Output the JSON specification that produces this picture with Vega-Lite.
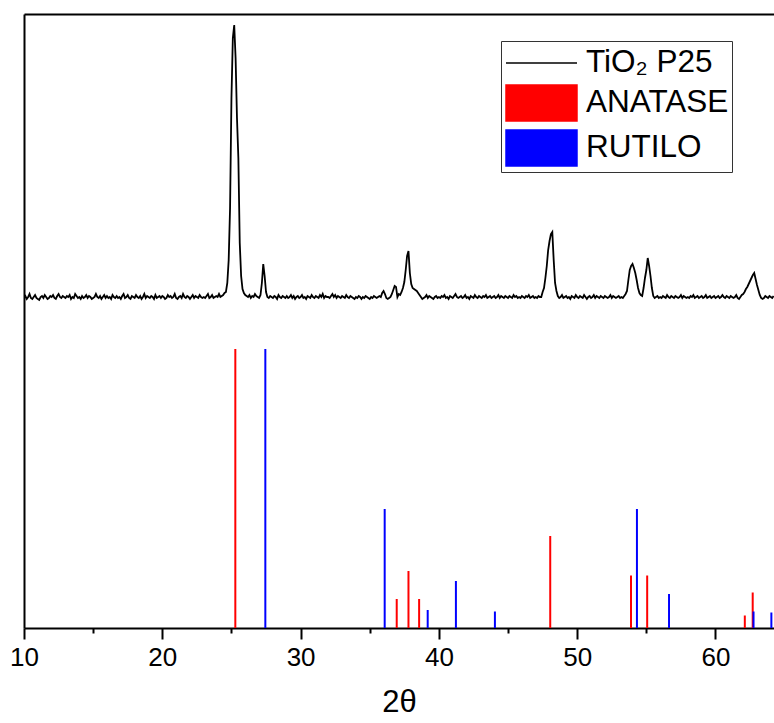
{
  "$schema": "https://vega.github.io/schema/vega-lite/v6.json",
  "width": 750,
  "height": 614,
  "autosize": {"type": "none"},
  "padding": {"left": 24, "top": 14, "right": 0, "bottom": 95},
  "background": "white",
  "config": {"view": {"stroke": null}},
  "datasets": {
    "pattern": [
{"t":10.0,"v":330},{"t":10.1,"v":332},{"t":10.2,"v":329},{"t":10.3,"v":331},{"t":10.4,"v":334},{"t":10.5,"v":330},{"t":10.6,"v":329},{"t":10.7,"v":331},{"t":10.8,"v":333},{"t":10.9,"v":330},
{"t":11.0,"v":329},{"t":11.1,"v":328},{"t":11.2,"v":331},{"t":11.3,"v":332},{"t":11.4,"v":330},{"t":11.5,"v":333},{"t":11.6,"v":331},{"t":11.7,"v":329},{"t":11.8,"v":330},{"t":11.9,"v":332},
{"t":12.0,"v":331},{"t":12.1,"v":333},{"t":12.2,"v":330},{"t":12.3,"v":329},{"t":12.4,"v":332},{"t":12.5,"v":334},{"t":12.6,"v":331},{"t":12.7,"v":330},{"t":12.8,"v":332},{"t":12.9,"v":331},
{"t":13.0,"v":330},{"t":13.1,"v":332},{"t":13.2,"v":331},{"t":13.3,"v":333},{"t":13.4,"v":329},{"t":13.5,"v":331},{"t":13.6,"v":330},{"t":13.7,"v":334},{"t":13.8,"v":332},{"t":13.9,"v":330},
{"t":14.0,"v":331},{"t":14.1,"v":329},{"t":14.2,"v":332},{"t":14.3,"v":330},{"t":14.4,"v":331},{"t":14.5,"v":333},{"t":14.6,"v":330},{"t":14.7,"v":332},{"t":14.8,"v":331},{"t":14.9,"v":329},
{"t":15.0,"v":330},{"t":15.1,"v":331},{"t":15.2,"v":334},{"t":15.3,"v":331},{"t":15.4,"v":330},{"t":15.5,"v":332},{"t":15.6,"v":329},{"t":15.7,"v":331},{"t":15.8,"v":333},{"t":15.9,"v":330},
{"t":16.0,"v":332},{"t":16.1,"v":330},{"t":16.2,"v":331},{"t":16.3,"v":329},{"t":16.4,"v":333},{"t":16.5,"v":331},{"t":16.6,"v":330},{"t":16.7,"v":332},{"t":16.8,"v":330},{"t":16.9,"v":331},
{"t":17.0,"v":329},{"t":17.1,"v":332},{"t":17.2,"v":334},{"t":17.3,"v":330},{"t":17.4,"v":331},{"t":17.5,"v":333},{"t":17.6,"v":330},{"t":17.7,"v":329},{"t":17.8,"v":332},{"t":17.9,"v":331},
{"t":18.0,"v":330},{"t":18.1,"v":333},{"t":18.2,"v":331},{"t":18.3,"v":330},{"t":18.4,"v":332},{"t":18.5,"v":329},{"t":18.6,"v":331},{"t":18.7,"v":334},{"t":18.8,"v":330},{"t":18.9,"v":332},
{"t":19.0,"v":331},{"t":19.1,"v":330},{"t":19.2,"v":332},{"t":19.3,"v":331},{"t":19.4,"v":329},{"t":19.5,"v":333},{"t":19.6,"v":330},{"t":19.7,"v":331},{"t":19.8,"v":332},{"t":19.9,"v":330},
{"t":20.0,"v":332},{"t":20.1,"v":331},{"t":20.2,"v":329},{"t":20.3,"v":330},{"t":20.4,"v":333},{"t":20.5,"v":331},{"t":20.6,"v":332},{"t":20.7,"v":330},{"t":20.8,"v":331},{"t":20.9,"v":334},
{"t":21.0,"v":330},{"t":21.1,"v":329},{"t":21.2,"v":331},{"t":21.3,"v":332},{"t":21.4,"v":330},{"t":21.5,"v":334},{"t":21.6,"v":331},{"t":21.7,"v":330},{"t":21.8,"v":332},{"t":21.9,"v":331},
{"t":22.0,"v":329},{"t":22.1,"v":331},{"t":22.2,"v":333},{"t":22.3,"v":330},{"t":22.4,"v":332},{"t":22.5,"v":331},{"t":22.6,"v":330},{"t":22.7,"v":333},{"t":22.8,"v":331},{"t":22.9,"v":330},
{"t":23.0,"v":331},{"t":23.1,"v":330},{"t":23.2,"v":332},{"t":23.3,"v":334},{"t":23.4,"v":330},{"t":23.5,"v":331},{"t":23.6,"v":333},{"t":23.7,"v":330},{"t":23.8,"v":331},{"t":23.9,"v":332},
{"t":24.0,"v":331},{"t":24.1,"v":334},{"t":24.2,"v":331},{"t":24.3,"v":332},{"t":24.4,"v":333},{"t":24.5,"v":335},{"t":24.6,"v":336},{"t":24.7,"v":345},{"t":24.8,"v":368},{"t":24.9,"v":420},
{"t":25.0,"v":530},{"t":25.1,"v":590},{"t":25.2,"v":603},{"t":25.3,"v":570},{"t":25.4,"v":510},{"t":25.5,"v":470},{"t":25.6,"v":385},{"t":25.7,"v":352},{"t":25.8,"v":339},{"t":25.9,"v":335},
{"t":26.0,"v":333},{"t":26.1,"v":332},{"t":26.2,"v":331},{"t":26.3,"v":333},{"t":26.4,"v":330},{"t":26.5,"v":332},{"t":26.6,"v":331},{"t":26.7,"v":334},{"t":26.8,"v":332},{"t":26.9,"v":331},
{"t":27.0,"v":330},{"t":27.1,"v":333},{"t":27.2,"v":345},{"t":27.3,"v":364},{"t":27.4,"v":352},{"t":27.5,"v":336},{"t":27.6,"v":331},{"t":27.7,"v":330},{"t":27.8,"v":332},{"t":27.9,"v":331},
{"t":28.0,"v":330},{"t":28.1,"v":332},{"t":28.2,"v":331},{"t":28.3,"v":329},{"t":28.4,"v":333},{"t":28.5,"v":331},{"t":28.6,"v":330},{"t":28.7,"v":332},{"t":28.8,"v":331},{"t":28.9,"v":330},
{"t":29.0,"v":332},{"t":29.1,"v":330},{"t":29.2,"v":331},{"t":29.3,"v":333},{"t":29.4,"v":330},{"t":29.5,"v":332},{"t":29.6,"v":329},{"t":29.7,"v":331},{"t":29.8,"v":332},{"t":29.9,"v":330},
{"t":30.0,"v":331},{"t":30.1,"v":333},{"t":30.2,"v":330},{"t":30.3,"v":331},{"t":30.4,"v":329},{"t":30.5,"v":332},{"t":30.6,"v":331},{"t":30.7,"v":330},{"t":30.8,"v":333},{"t":30.9,"v":331},
{"t":31.0,"v":330},{"t":31.1,"v":332},{"t":31.2,"v":331},{"t":31.3,"v":330},{"t":31.4,"v":333},{"t":31.5,"v":331},{"t":31.6,"v":334},{"t":31.7,"v":330},{"t":31.8,"v":332},{"t":31.9,"v":331},
{"t":32.0,"v":331},{"t":32.1,"v":330},{"t":32.2,"v":332},{"t":32.3,"v":334},{"t":32.4,"v":331},{"t":32.5,"v":333},{"t":32.6,"v":330},{"t":32.7,"v":332},{"t":32.8,"v":331},{"t":32.9,"v":330},
{"t":33.0,"v":332},{"t":33.1,"v":331},{"t":33.2,"v":330},{"t":33.3,"v":333},{"t":33.4,"v":331},{"t":33.5,"v":330},{"t":33.6,"v":332},{"t":33.7,"v":331},{"t":33.8,"v":330},{"t":33.9,"v":329},
{"t":34.0,"v":331},{"t":34.1,"v":330},{"t":34.2,"v":332},{"t":34.3,"v":331},{"t":34.4,"v":329},{"t":34.5,"v":331},{"t":34.6,"v":330},{"t":34.7,"v":332},{"t":34.8,"v":331},{"t":34.9,"v":330},
{"t":35.0,"v":329},{"t":35.1,"v":331},{"t":35.2,"v":330},{"t":35.3,"v":332},{"t":35.4,"v":331},{"t":35.5,"v":330},{"t":35.6,"v":331},{"t":35.7,"v":332},{"t":35.8,"v":331},{"t":35.9,"v":335},
{"t":36.0,"v":337},{"t":36.1,"v":334},{"t":36.2,"v":330},{"t":36.3,"v":329},{"t":36.4,"v":330},{"t":36.5,"v":331},{"t":36.6,"v":334},{"t":36.7,"v":338},{"t":36.8,"v":342},{"t":36.9,"v":341},
{"t":37.0,"v":331},{"t":37.1,"v":334},{"t":37.2,"v":333},{"t":37.3,"v":336},{"t":37.4,"v":340},{"t":37.5,"v":346},{"t":37.6,"v":358},{"t":37.7,"v":372},{"t":37.8,"v":377},{"t":37.9,"v":355},
{"t":38.0,"v":344},{"t":38.1,"v":340},{"t":38.2,"v":339},{"t":38.3,"v":338},{"t":38.4,"v":337},{"t":38.5,"v":335},{"t":38.6,"v":333},{"t":38.7,"v":331},{"t":38.8,"v":329},{"t":38.9,"v":330},
{"t":39.0,"v":331},{"t":39.1,"v":333},{"t":39.2,"v":330},{"t":39.3,"v":332},{"t":39.4,"v":331},{"t":39.5,"v":330},{"t":39.6,"v":329},{"t":39.7,"v":331},{"t":39.8,"v":332},{"t":39.9,"v":330},
{"t":40.0,"v":331},{"t":40.1,"v":330},{"t":40.2,"v":332},{"t":40.3,"v":331},{"t":40.4,"v":333},{"t":40.5,"v":330},{"t":40.6,"v":331},{"t":40.7,"v":329},{"t":40.8,"v":332},{"t":40.9,"v":331},
{"t":41.0,"v":330},{"t":41.1,"v":332},{"t":41.2,"v":334},{"t":41.3,"v":331},{"t":41.4,"v":330},{"t":41.5,"v":331},{"t":41.6,"v":332},{"t":41.7,"v":330},{"t":41.8,"v":331},{"t":41.9,"v":333},
{"t":42.0,"v":330},{"t":42.1,"v":331},{"t":42.2,"v":329},{"t":42.3,"v":332},{"t":42.4,"v":331},{"t":42.5,"v":330},{"t":42.6,"v":333},{"t":42.7,"v":331},{"t":42.8,"v":330},{"t":42.9,"v":332},
{"t":43.0,"v":331},{"t":43.1,"v":330},{"t":43.2,"v":332},{"t":43.3,"v":331},{"t":43.4,"v":333},{"t":43.5,"v":330},{"t":43.6,"v":331},{"t":43.7,"v":332},{"t":43.8,"v":330},{"t":43.9,"v":331},
{"t":44.0,"v":332},{"t":44.1,"v":330},{"t":44.2,"v":331},{"t":44.3,"v":333},{"t":44.4,"v":330},{"t":44.5,"v":332},{"t":44.6,"v":331},{"t":44.7,"v":330},{"t":44.8,"v":332},{"t":44.9,"v":331},
{"t":45.0,"v":330},{"t":45.1,"v":332},{"t":45.2,"v":331},{"t":45.3,"v":330},{"t":45.4,"v":333},{"t":45.5,"v":331},{"t":45.6,"v":332},{"t":45.7,"v":330},{"t":45.8,"v":331},{"t":45.9,"v":330},
{"t":46.0,"v":332},{"t":46.1,"v":331},{"t":46.2,"v":330},{"t":46.3,"v":332},{"t":46.4,"v":331},{"t":46.5,"v":333},{"t":46.6,"v":330},{"t":46.7,"v":331},{"t":46.8,"v":332},{"t":46.9,"v":330},
{"t":47.0,"v":331},{"t":47.1,"v":330},{"t":47.2,"v":332},{"t":47.3,"v":331},{"t":47.4,"v":331},{"t":47.5,"v":336},{"t":47.6,"v":340},{"t":47.7,"v":350},{"t":47.8,"v":362},{"t":47.9,"v":378},
{"t":48.0,"v":387},{"t":48.1,"v":394},{"t":48.2,"v":396},{"t":48.3,"v":368},{"t":48.4,"v":345},{"t":48.5,"v":337},{"t":48.6,"v":332},{"t":48.7,"v":330},{"t":48.8,"v":331},{"t":48.9,"v":333},
{"t":49.0,"v":330},{"t":49.1,"v":331},{"t":49.2,"v":332},{"t":49.3,"v":330},{"t":49.4,"v":331},{"t":49.5,"v":329},{"t":49.6,"v":332},{"t":49.7,"v":331},{"t":49.8,"v":330},{"t":49.9,"v":333},
{"t":50.0,"v":331},{"t":50.1,"v":330},{"t":50.2,"v":332},{"t":50.3,"v":331},{"t":50.4,"v":330},{"t":50.5,"v":333},{"t":50.6,"v":331},{"t":50.7,"v":329},{"t":50.8,"v":331},{"t":50.9,"v":332},
{"t":51.0,"v":330},{"t":51.1,"v":331},{"t":51.2,"v":333},{"t":51.3,"v":330},{"t":51.4,"v":332},{"t":51.5,"v":331},{"t":51.6,"v":330},{"t":51.7,"v":332},{"t":51.8,"v":331},{"t":51.9,"v":330},
{"t":52.0,"v":332},{"t":52.1,"v":331},{"t":52.2,"v":330},{"t":52.3,"v":331},{"t":52.4,"v":333},{"t":52.5,"v":330},{"t":52.6,"v":332},{"t":52.7,"v":331},{"t":52.8,"v":330},{"t":52.9,"v":331},
{"t":53.0,"v":332},{"t":53.1,"v":330},{"t":53.2,"v":331},{"t":53.3,"v":330},{"t":53.4,"v":332},{"t":53.5,"v":334},{"t":53.6,"v":337},{"t":53.7,"v":348},{"t":53.8,"v":358},{"t":53.9,"v":362},
{"t":54.0,"v":364},{"t":54.1,"v":360},{"t":54.2,"v":355},{"t":54.3,"v":348},{"t":54.4,"v":340},{"t":54.5,"v":335},{"t":54.6,"v":333},{"t":54.7,"v":332},{"t":54.8,"v":340},{"t":54.9,"v":350},
{"t":55.0,"v":358},{"t":55.1,"v":370},{"t":55.2,"v":362},{"t":55.3,"v":352},{"t":55.4,"v":340},{"t":55.5,"v":332},{"t":55.6,"v":330},{"t":55.7,"v":331},{"t":55.8,"v":332},{"t":55.9,"v":330},
{"t":56.0,"v":331},{"t":56.1,"v":330},{"t":56.2,"v":332},{"t":56.3,"v":331},{"t":56.4,"v":330},{"t":56.5,"v":333},{"t":56.6,"v":331},{"t":56.7,"v":330},{"t":56.8,"v":332},{"t":56.9,"v":331},
{"t":57.0,"v":330},{"t":57.1,"v":332},{"t":57.2,"v":331},{"t":57.3,"v":330},{"t":57.4,"v":331},{"t":57.5,"v":333},{"t":57.6,"v":330},{"t":57.7,"v":332},{"t":57.8,"v":331},{"t":57.9,"v":330},
{"t":58.0,"v":331},{"t":58.1,"v":330},{"t":58.2,"v":332},{"t":58.3,"v":331},{"t":58.4,"v":333},{"t":58.5,"v":330},{"t":58.6,"v":331},{"t":58.7,"v":332},{"t":58.8,"v":330},{"t":58.9,"v":331},
{"t":59.0,"v":332},{"t":59.1,"v":330},{"t":59.2,"v":331},{"t":59.3,"v":333},{"t":59.4,"v":330},{"t":59.5,"v":331},{"t":59.6,"v":332},{"t":59.7,"v":330},{"t":59.8,"v":331},{"t":59.9,"v":332},
{"t":60.0,"v":330},{"t":60.1,"v":331},{"t":60.2,"v":332},{"t":60.3,"v":330},{"t":60.4,"v":331},{"t":60.5,"v":333},{"t":60.6,"v":331},{"t":60.7,"v":330},{"t":60.8,"v":332},{"t":60.9,"v":331},
{"t":61.0,"v":330},{"t":61.1,"v":332},{"t":61.2,"v":331},{"t":61.3,"v":330},{"t":61.4,"v":331},{"t":61.5,"v":333},{"t":61.6,"v":330},{"t":61.7,"v":329},{"t":61.8,"v":331},{"t":61.9,"v":333},
{"t":62.0,"v":334},{"t":62.1,"v":336},{"t":62.2,"v":339},{"t":62.3,"v":341},{"t":62.4,"v":344},{"t":62.5,"v":347},{"t":62.6,"v":350},{"t":62.7,"v":353},{"t":62.8,"v":355},{"t":62.9,"v":349},
{"t":63.0,"v":343},{"t":63.1,"v":338},{"t":63.2,"v":333},{"t":63.3,"v":330},{"t":63.4,"v":329},{"t":63.5,"v":330},{"t":63.6,"v":332},{"t":63.7,"v":331},{"t":63.8,"v":330},{"t":63.9,"v":332},
{"t":64.0,"v":331},{"t":64.1,"v":330},{"t":64.2,"v":332}
    ],
    "sticks": [
      {"t": 25.28, "h": 279, "f": "ANATASE"},
      {"t": 27.45, "h": 279, "f": "RUTILO"},
      {"t": 36.08, "h": 119, "f": "RUTILO"},
      {"t": 36.95, "h": 29, "f": "ANATASE"},
      {"t": 37.8, "h": 57, "f": "ANATASE"},
      {"t": 38.57, "h": 29, "f": "ANATASE"},
      {"t": 39.19, "h": 18, "f": "RUTILO"},
      {"t": 41.23, "h": 47, "f": "RUTILO"},
      {"t": 44.05, "h": 16.5, "f": "RUTILO"},
      {"t": 48.05, "h": 92, "f": "ANATASE"},
      {"t": 53.89, "h": 52.5, "f": "ANATASE"},
      {"t": 54.32, "h": 119, "f": "RUTILO"},
      {"t": 55.06, "h": 52.5, "f": "ANATASE"},
      {"t": 56.64, "h": 34, "f": "RUTILO"},
      {"t": 62.12, "h": 12.5, "f": "ANATASE"},
      {"t": 62.69, "h": 35.5, "f": "ANATASE"},
      {"t": 62.75, "h": 16.5, "f": "RUTILO"},
      {"t": 64.04, "h": 15.5, "f": "RUTILO"}
    ]
  },
  "layer": [
    {
      "data": {"name": "pattern"},
      "mark": {"type": "line", "strokeWidth": 1.8, "clip": true, "interpolate": "linear"},
      "encoding": {
        "x": {
          "field": "t", "type": "quantitative",
          "scale": {"domain": [10, 64.23], "nice": false, "zero": false},
          "axis": {
            "orient": "bottom",
            "values": [10, 15, 20, 25, 30, 35, 40, 45, 50, 55, 60],
            "labelExpr": "datum.value % 10 === 0 ? datum.label : ''",
            "tickSize": {"condition": {"test": "datum.value % 10 === 0", "value": 11}, "value": 5},
            "tickWidth": 2, "tickColor": "black",
            "domainWidth": 2, "domainColor": "black",
            "grid": false, "labelFlush": false, "labelOverlap": false,
            "labelFont": "Liberation Sans", "labelFontSize": 26, "labelColor": "black", "labelPadding": 5,
            "title": "2θ", "titleFont": "Liberation Sans", "titleFontSize": 31, "titleFontWeight": "normal",
            "titleColor": "black", "titlePadding": 17
          }
        },
        "y": {
          "field": "v", "type": "quantitative",
          "scale": {"domain": [0, 614], "nice": false, "zero": true},
          "axis": {"labels": false, "ticks": false, "title": null, "grid": false, "domainWidth": 2, "domainColor": "black"}
        },
        "color": {
          "datum": "TiO₂ P25",
          "title": null,
          "scale": {"domain": ["TiO₂ P25", "ANATASE", "RUTILO"], "range": ["#000000", "#ff0000", "#0000ff"]},
          "legend": {
            "title": null,
            "orient": "none", "legendX": 477, "legendY": 27,
            "padding": 3, "rowPadding": 3,
            "symbolSize": 1296, "symbolOffset": 18.5, "labelOffset": 25.5,
            "symbolStrokeWidth": 1.5,
            "labelFont": "Liberation Sans", "labelFontSize": 31.5, "labelColor": "black", "labelLimit": 400,
            "strokeColor": "#333333",
            "encode": {
              "symbols": {
                "update": {
                  "shape": {"signal": "datum.value === 'TiO₂ P25' ? 'M-1.972,0H1.972' : 'M-1.972,-1H1.972V1H-1.972Z'"},
                  "fill": {"signal": "datum.value === 'ANATASE' ? '#ff0000' : datum.value === 'RUTILO' ? '#0000ff' : 'transparent'"},
                  "stroke": {"signal": "datum.value === 'ANATASE' ? '#ff0000' : datum.value === 'RUTILO' ? '#0000ff' : '#000000'"},
                  "opacity": {"value": 1},
                  "fillOpacity": {"value": 1},
                  "strokeWidth": {"value": 1.5}
                }
              }
            }
          }
        }
      }
    },
    {
      "data": {"name": "sticks"},
      "mark": {"type": "rule", "strokeWidth": 2, "clip": true},
      "encoding": {
        "x": {
          "field": "t", "type": "quantitative",
          "scale": {"domain": [10, 64.23], "nice": false, "zero": false},
          "axis": {"orient": "top", "labels": false, "ticks": false, "title": null, "grid": false, "domainWidth": 2, "domainColor": "black"}
        },
        "y": {
          "field": "h", "type": "quantitative",
          "scale": {"domain": [0, 614], "nice": false, "zero": true},
          "axis": {"labels": false, "ticks": false, "title": null, "grid": false, "domainWidth": 2, "domainColor": "black"}
        },
        "y2": {"datum": 0},
        "color": {"field": "f", "type": "nominal", "title": null, "legend": {"title": null}}
      }
    }
  ],
  "resolve": {"axis": {"x": "independent"}}
}
